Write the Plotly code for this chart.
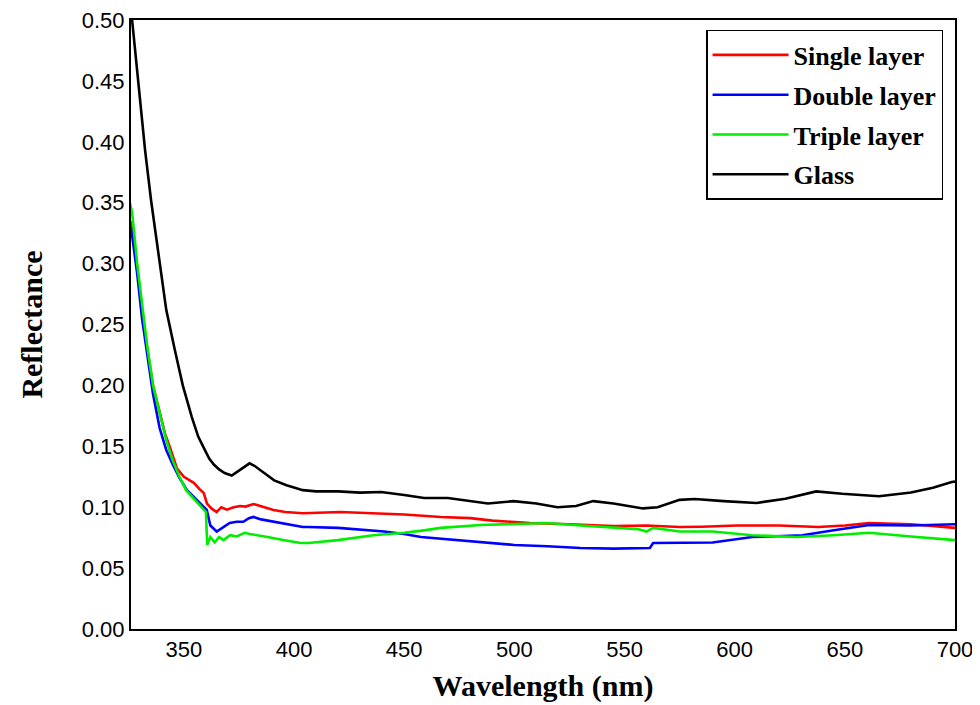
import plotly.graph_objects as go

# Wavelength (nm) / reflectance values
glass_x = [326.5, 329.6, 332.4, 335.1, 338.7, 342.0, 345.9, 349.5, 353.6, 356.5, 359.5, 361.5, 363.6, 366.0,
           368.5, 371.7, 375.0, 378.0, 379.8, 382.0, 385.0, 387.5, 391.0, 396.6, 404.0, 410.0, 420.0, 430.0,
           439.5, 450.0, 459.0, 469.8, 480.0, 488.0, 499.6, 510.0, 519.5, 528.0, 535.8, 545.0, 558.4, 565.0,
           575.0, 581.9, 595.0, 609.9, 623.0, 637.0, 648.8, 665.5, 680.0, 690.0, 698.5, 700.0]
glass_y = [0.500, 0.445, 0.393, 0.352, 0.303, 0.262, 0.229, 0.200, 0.174, 0.158, 0.147, 0.140, 0.135, 0.131,
           0.128, 0.126, 0.130, 0.134, 0.136, 0.134, 0.130, 0.126, 0.122, 0.118, 0.114, 0.113, 0.113, 0.112,
           0.1125, 0.110, 0.1075, 0.1075, 0.105, 0.103, 0.105, 0.103, 0.100, 0.101, 0.105, 0.103, 0.099, 0.100,
           0.106, 0.1067, 0.105, 0.1035, 0.107, 0.113, 0.111, 0.109, 0.112, 0.116, 0.1207, 0.121]

single_x = [326.0, 328.8, 331.0, 333.3, 336.0, 339.2, 341.5, 343.7, 346.8, 350.0, 354.5, 357.0, 359.0, 360.5,
            362.5, 364.9, 367.0, 369.5, 372.6, 375.5, 378.0, 381.6, 385.0, 390.7, 396.0, 404.0, 421.0, 439.5,
            450.0, 466.6, 480.0, 490.0, 507.0, 525.0, 545.0, 560.0, 575.0, 585.0, 600.9, 620.0, 638.0, 650.0,
            661.0, 680.0, 698.5, 700.0]
single_y = [0.335, 0.297, 0.262, 0.231, 0.200, 0.176, 0.160, 0.149, 0.132, 0.125, 0.120, 0.115, 0.1117, 0.103,
            0.099, 0.096, 0.100, 0.098, 0.100, 0.101, 0.1005, 0.1026, 0.101, 0.0977, 0.096, 0.095, 0.096, 0.095,
            0.094, 0.092, 0.091, 0.089, 0.087, 0.086, 0.0846, 0.085, 0.0837, 0.084, 0.085, 0.085, 0.0837, 0.085,
            0.087, 0.086, 0.083, 0.083]

double_x = [326.0, 328.8, 331.0, 333.3, 336.0, 339.0, 342.0, 345.0, 348.0, 351.4, 355.0, 358.0, 360.4, 362.0,
            364.9, 367.5, 370.8, 374.0, 377.0, 379.5, 381.6, 385.0, 390.7, 396.0, 404.0, 406.5, 420.0, 440.9,
            450.0, 457.6, 466.6, 484.7, 500.0, 515.0, 530.0, 545.0, 561.5, 563.0, 575.0, 590.0, 608.0, 630.7,
            645.0, 661.0, 680.0, 698.5, 700.0]
double_y = [0.330, 0.292, 0.255, 0.225, 0.193, 0.165, 0.147, 0.135, 0.124, 0.114, 0.107, 0.102, 0.0977, 0.085,
            0.080, 0.083, 0.087, 0.088, 0.088, 0.091, 0.092, 0.090, 0.088, 0.086, 0.0837, 0.0837, 0.083, 0.080,
            0.078, 0.0755, 0.074, 0.0714, 0.069, 0.068, 0.0665, 0.066, 0.0665, 0.0706, 0.0706, 0.071, 0.0755, 0.077,
            0.081, 0.0854, 0.085, 0.086, 0.086]

triple_x = [325.5, 326.5, 328.8, 331.0, 333.3, 336.0, 339.2, 342.0, 345.0, 348.0, 351.0, 354.0, 357.0, 360.0,
            360.6, 362.0, 364.0, 366.0, 368.0, 371.0, 374.0, 377.6, 380.0, 384.0, 388.0, 395.0, 403.0, 406.5,
            420.0, 436.0, 450.0, 459.0, 466.6, 484.7, 500.0, 515.0, 530.0, 545.0, 556.0, 560.0, 563.0, 575.0,
            590.0, 608.0, 628.0, 645.0, 661.0, 680.0, 698.5, 700.0]
triple_y = [0.350, 0.342, 0.300, 0.265, 0.233, 0.200, 0.175, 0.155, 0.138, 0.125, 0.114, 0.108, 0.102, 0.096,
            0.069, 0.0755, 0.071, 0.0755, 0.073, 0.077, 0.076, 0.079, 0.078, 0.077, 0.0755, 0.073, 0.0706, 0.0706,
            0.073, 0.077, 0.079, 0.081, 0.083, 0.0854, 0.086, 0.087, 0.085, 0.083, 0.082, 0.080, 0.083, 0.080,
            0.080, 0.077, 0.0755, 0.077, 0.079, 0.076, 0.073, 0.073]

x_ticks = [350, 400, 450, 500, 550, 600, 650, 700]
y_ticks = [0.00, 0.05, 0.10, 0.15, 0.20, 0.25, 0.30, 0.35, 0.40, 0.45, 0.50]

series = [
    ("Single layer", single_x, single_y, "#ff0000"),
    ("Double layer", double_x, double_y, "#0000ff"),
    ("Triple layer", triple_x, triple_y, "#00ee00"),
    ("Glass", glass_x, glass_y, "#000000"),
]

fig = go.Figure()
for i, (name, xs, ys, col) in enumerate(series):
    fig.add_trace(go.Scatter(x=xs, y=ys, mode="lines", name=f"<b>{name}</b>", legendgroup=f"g{i}",
                             line=dict(color=col, width=2.6)))

axis_common = dict(showgrid=False, zeroline=False, showline=True, linecolor="black", linewidth=2,
                   mirror=True, ticks="", automargin=False, ticklabeloverflow="allow",
                   tickfont=dict(family="Liberation Sans, Arial", size=22, color="black"))

fig.update_xaxes(range=[326, 700], tickvals=x_ticks, ticktext=[str(v) for v in x_ticks],
                 title=dict(text="<b>Wavelength (nm)</b>", standoff=14,
                            font=dict(family="Liberation Serif, Times New Roman", size=30, color="black")),
                 **axis_common)
fig.update_yaxes(range=[0, 0.5], tickvals=y_ticks, ticktext=[f"{v:.2f}" for v in y_ticks],
                 title=dict(text="<b>Reflectance</b>", standoff=30,
                            font=dict(family="Liberation Serif, Times New Roman", size=30, color="black")),
                 **axis_common)

# page body adds an 8px offset; plot area placed to match the reference
fig.update_layout(
    width=972, height=697,
    margin=dict(l=123, r=25, t=12, b=76, autoexpand=False),
    plot_bgcolor="white", paper_bgcolor="white",
    legend=dict(x=0.9855, y=0.9836, xanchor="right", yanchor="top",
                bordercolor="black", borderwidth=1.5, bgcolor="white",
                tracegroupgap=3, itemwidth=76,
                font=dict(family="Liberation Serif, Times New Roman", size=26, color="black")),
)

fig.write_html("out.html")
